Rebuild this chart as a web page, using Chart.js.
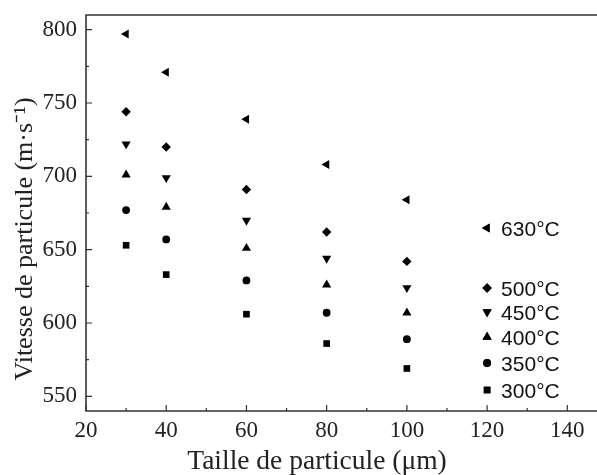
<!DOCTYPE html>
<html>
<head>
<meta charset="utf-8">
<script src="https://cdn.jsdelivr.net/npm/chart.js@4/dist/chart.umd.min.js"></script>
<style>
  html, body { margin: 0; padding: 0; background: #fff; }
  #wrap { width: 597px; height: 475px; }
</style>
</head>
<body>
<div id="wrap"><canvas id="chart" width="597" height="475"></canvas></div>
<script>
// particle size (um)
var sizes = [30, 40, 60, 80, 100];
// particle velocity (m/s) per temperature
var v630 = [797, 771, 739, 708, 684];
var v500 = [744, 720, 691, 662, 642];
var v450 = [722, 699, 670, 644, 624];
var v400 = [701, 679, 651, 626, 607];
var v350 = [677, 657, 629, 607, 589];
var v300 = [653, 633, 606, 586, 569];
var labels = ["630°C", "500°C", "450°C", "400°C", "350°C", "300°C"];
var xTicks = [20, 40, 60, 80, 100, 120, 140];
var yTicks = [550, 600, 650, 700, 750, 800];
var xTitle = "Taille de particule (μm)";
var yTitle = "Vitesse de particule (m·s⁻¹)";

function pts(ys) {
    return sizes.map(function (x, i) { return { x: x, y: ys[i] }; });
}

var marks = [
    { style: "triangle", rot: 270, r: 5.2 },
    { style: "rectRot", rot: 0, r: 4.7 },
    { style: "triangle", rot: 180, r: 5.3 },
    { style: "triangle", rot: 0, r: 5.3 },
    { style: "circle", rot: 0, r: 3.9 },
    { style: "rect", rot: 0, r: 4.7 }
];
var series = [v630, v500, v450, v400, v350, v300];

var datasets = series.map(function (s, i) {
    return {
        label: labels[i],
        data: pts(s),
        pointStyle: marks[i].style,
        rotation: marks[i].rot,
        pointRadius: marks[i].r,
        pointHoverRadius: marks[i].r,
        backgroundColor: "#000",
        borderColor: "#000",
        borderWidth: 0,
        showLine: false
    };
});

var serif = "'Liberation Serif', 'Times New Roman', serif";

// axes frame, inward ticks, axis titles and the in-plot legend
var framePlugin = {
    id: "frame",
    afterDraw: function (chart) {
        var ctx = chart.ctx;
        var a = chart.chartArea;
        var xs = chart.scales.x, ys = chart.scales.y;
        ctx.save();
        ctx.strokeStyle = "#333";
        ctx.lineWidth = 1.6;
        ctx.beginPath();
        ctx.moveTo(a.right, a.top); ctx.lineTo(a.left, a.top);
        ctx.lineTo(a.left, a.bottom); ctx.lineTo(a.right, a.bottom);
        ctx.stroke();
        ctx.lineWidth = 1.2;
        ctx.beginPath();
        for (var v = 20; v <= 145; v += 10) {
            var px = xs.getPixelForValue(v);
            var len = (v % 20 === 0) ? 6 : 3;
            ctx.moveTo(px, a.bottom); ctx.lineTo(px, a.bottom - len);
        }
        for (var w = 550; w <= 800; w += 25) {
            var py = ys.getPixelForValue(w);
            var l2 = (w % 50 === 0) ? 6 : 3;
            ctx.moveTo(a.left, py); ctx.lineTo(a.left + l2, py);
        }
        ctx.stroke();

        // axis titles
        ctx.fillStyle = "#222";
        ctx.textAlign = "center";
        ctx.textBaseline = "alphabetic";
        ctx.font = "27.5px " + serif;
        ctx.fillText(xTitle, 317, 469);
        ctx.save();
        ctx.translate(32, 239);
        ctx.rotate(-Math.PI / 2);
        ctx.font = "26px " + serif;
        ctx.fillText(yTitle, 0, 0);
        ctx.restore();

        // legend
        var lx = xs.getPixelForValue(120);
        var rows = [228, 288, 312, 337, 363, 390];
        ctx.font = "21px 'Liberation Sans', Arial, sans-serif";
        ctx.textBaseline = "middle";
        ctx.textAlign = "left";
        for (var i = 0; i < labels.length; i++) {
            var m = marks[i];
            Chart.helpers.drawPoint(ctx, { pointStyle: m.style, rotation: m.rot, radius: m.r, borderWidth: 0 }, lx, rows[i]);
            ctx.fillStyle = "#000";
            ctx.fill();
            ctx.fillStyle = "#111";
            ctx.fillText(labels[i], lx + 14, rows[i] + 2);
        }
        ctx.restore();
    }
};

new Chart(document.getElementById("chart"), {
    type: "scatter",
    data: { datasets: datasets },
    options: {
        responsive: false,
        animation: false,
        layout: { autoPadding: false, padding: { top: 15, right: 0, left: 0, bottom: 0 } },
        plugins: { legend: { display: false }, tooltip: { enabled: false } },
        scales: {
            x: {
                type: "linear",
                min: 20,
                max: 147.4,
                grid: { display: false },
                border: { display: false },
                afterBuildTicks: function (s) { s.ticks = xTicks.map(function (v) { return { value: v }; }); },
                afterFit: function (s) { s.height = 64; s.paddingLeft = 0; s.paddingRight = 0; },
                ticks: { color: "#222", padding: -2, font: { family: serif, size: 23 } }
            },
            y: {
                min: 540,
                max: 810,
                grid: { display: false },
                border: { display: false },
                afterBuildTicks: function (s) { s.ticks = yTicks.map(function (v) { return { value: v }; }); },
                afterFit: function (s) { s.width = 86; s.paddingTop = 0; s.paddingBottom = 0; },
                ticks: { color: "#222", padding: 1, font: { family: serif, size: 23 } }
            }
        }
    },
    plugins: [framePlugin]
});
</script>
</body>
</html>
